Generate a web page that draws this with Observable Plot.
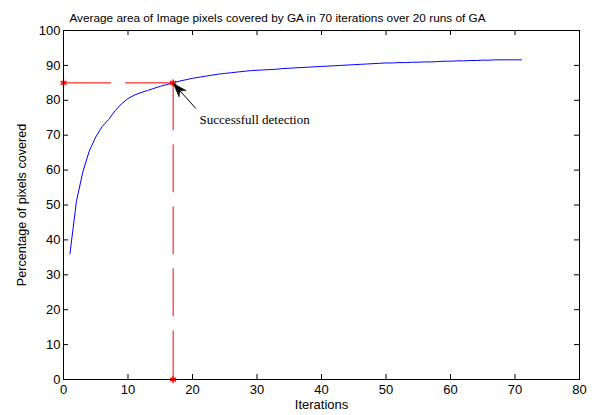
<!DOCTYPE html>
<html>
<head>
<meta charset="utf-8">
<script src="https://cdn.jsdelivr.net/npm/d3@7"></script>
<script src="https://cdn.jsdelivr.net/npm/@observablehq/plot@0.6"></script>
<style>
  html, body { margin: 0; padding: 0; background: #fff; }
</style>
</head>
<body>
<div id="chart"></div>
<script>
const iterations = d3.range(1, 72);
const coverage = [
  36, 51, 59.5, 65.5, 69.5, 72.5, 74.5, 77, 79, 80.5,
  81.5, 82.2, 82.8, 83.4, 84, 84.5, 85, 85.5, 85.9, 86.3,
  86.6, 86.9, 87.2, 87.5, 87.7, 87.9, 88.1, 88.3, 88.5, 88.6,
  88.7, 88.8, 88.9, 89.1, 89.2, 89.3, 89.4, 89.5, 89.6, 89.7,
  89.8, 89.9, 90.0, 90.1, 90.2, 90.3, 90.4, 90.5, 90.6, 90.7,
  90.7, 90.8, 90.8, 90.9, 90.9, 91.0, 91.0, 91.1, 91.2, 91.2,
  91.3, 91.3, 91.4, 91.4, 91.5, 91.5, 91.6, 91.6, 91.6, 91.6, 91.6
];
const xTicks = [0, 10, 20, 30, 40, 50, 60, 70, 80];
const yTicks = [0, 10, 20, 30, 40, 50, 60, 70, 80, 90, 100];

// detection point
const detectX = [0, 17, 17];
const detectY = [85, 85, 0];
const hLineX = [0, 17];
const hLineY = [85, 85];
const vLineX = [17, 17];
const vLineY = [85, 0];
// annotation arrow (tail -> head) and label
const arrowFrom = [20.6, 77.5];
const arrowTo = [17.1, 84.7];
const labelPos = [21.1, 74.3];
const labelText = "Successfull detection";
const titleText = "Average area of Image pixels covered by GA in 70 iterations over 20 runs of GA";

const data = iterations.map((x, i) => ({x, y: coverage[i]}));
const stars = detectX.map((x, i) => ({x, y: detectY[i]}));
const hLine = hLineX.map((x, i) => ({x, y: hLineY[i]}));
const vLine = vLineX.map((x, i) => ({x, y: vLineY[i]}));

const font = "'Liberation Sans', Arial, Helvetica, sans-serif";

// arrow with a filled head, drawn through the plot's scales
function annotationArrow(index, scales) {
  const x1 = scales.x(arrowFrom[0]), y1 = scales.y(arrowFrom[1]);
  const x2 = scales.x(arrowTo[0]), y2 = scales.y(arrowTo[1]);
  const dx = x2 - x1, dy = y2 - y1, len = Math.hypot(dx, dy);
  const ux = dx / len, uy = dy / len, px = -uy, py = ux;
  const hl = 14, hw = 4.8, notch = 10;
  const bx = x2 - ux * hl, by = y2 - uy * hl;
  const nx = x2 - ux * notch, ny = y2 - uy * notch;
  const g = d3.create("svg:g");
  g.append("line").attr("x1", x1).attr("y1", y1).attr("x2", nx).attr("y2", ny)
    .attr("stroke", "black").attr("stroke-width", 1);
  g.append("path")
    .attr("d", `M${x2},${y2}L${bx + px * hw},${by + py * hw}L${nx},${ny}L${bx - px * hw},${by - py * hw}Z`)
    .attr("fill", "black").attr("stroke", "black").attr("stroke-width", 0.5);
  return g.node();
}

const chart = Plot.plot({
  width: 597,
  height: 415,
  marginLeft: 63,
  marginRight: 18,
  marginTop: 30,
  marginBottom: 36,
  style: {fontFamily: font, fontSize: "13px", background: "#fff", color: "#000"},
  x: {domain: [0, 80], ticks: xTicks, label: null},
  y: {domain: [0, 100], ticks: yTicks, label: null},
  marks: [
    Plot.axisX({ticks: xTicks, tickSize: 0, tickPadding: 5, label: null, fontSize: 13}),
    Plot.axisY({ticks: yTicks, tickSize: 0, tickPadding: 3, label: null, fontSize: 13}),
    // inward ticks on all four sides
    Plot.ruleX(xTicks, {x: d => d, insetTop: 344, stroke: "black"}),
    Plot.ruleX(xTicks, {x: d => d, insetBottom: 344, stroke: "black"}),
    Plot.ruleY(yTicks, {y: d => d, insetRight: 511, stroke: "black"}),
    Plot.ruleY(yTicks, {y: d => d, insetLeft: 511, stroke: "black"}),
    Plot.line(hLine, {x: "x", y: "y", stroke: "#ff0000", strokeWidth: 1, strokeDasharray: "47,15"}),
    Plot.line(vLine, {x: "x", y: "y", stroke: "#ff0000", strokeWidth: 1, strokeDasharray: "47,15"}),
    Plot.line(data, {x: "x", y: "y", stroke: "#0000ff", strokeWidth: 1}),
    Plot.dot(stars, {x: "x", y: "y", symbol: "asterisk", r: 3.2, stroke: "#ff0000", strokeWidth: 1.5}),
    annotationArrow,
    Plot.text([labelText], {x: () => labelPos[0], y: () => labelPos[1], text: d => d, textAnchor: "start",
      fontFamily: "'Liberation Serif', 'Times New Roman', serif", fontSize: 13, fill: "black"}),
    Plot.frame({stroke: "black"}),
    Plot.text([titleText], {frameAnchor: "top", dy: -17, dx: -44, text: d => d, fontSize: 11.8, fill: "black"}),
    Plot.text(["Iterations"], {frameAnchor: "bottom", dy: 29, text: d => d, fontSize: 13, fill: "black"}),
    Plot.text(["Percentage of pixels covered"], {frameAnchor: "left", textAnchor: "middle", dx: -41.5, rotate: -90, text: d => d, fontSize: 12.6, fill: "black"})
  ]
});
document.getElementById("chart").appendChild(chart);
</script>
</body>
</html>
